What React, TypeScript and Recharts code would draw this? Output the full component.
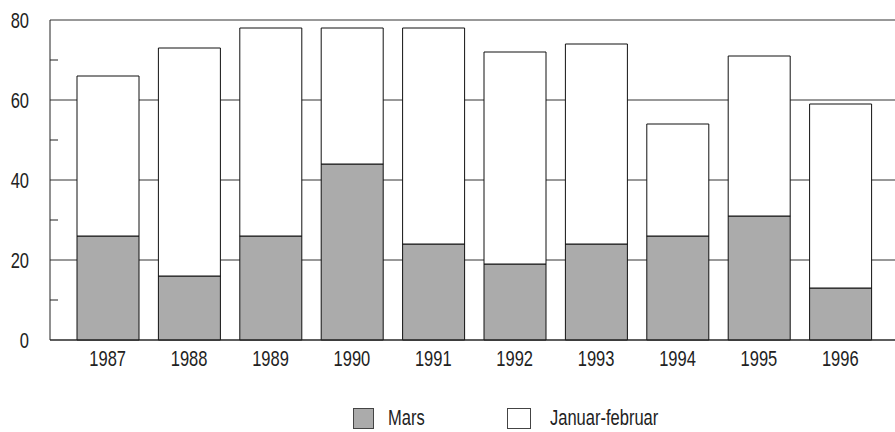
import React from 'react';
import { BarChart, Bar, XAxis, YAxis, CartesianGrid } from 'recharts';

const years = ['1987', '1988', '1989', '1990', '1991', '1992', '1993', '1994', '1995', '1996'];
const mars = [26, 16, 26, 44, 24, 19, 24, 26, 31, 13];
const januarFebruar = [40, 57, 52, 34, 54, 53, 50, 28, 40, 46];
const majorTicks = [0, 20, 40, 60, 80];
const allTicks = [0, 10, 20, 30, 40, 50, 60, 70, 80];

const data = years.map((year, i) => ({
  year,
  mars: mars[i],
  janfeb: januarFebruar[i],
}));

const FONT = "'Liberation Sans', Arial, sans-serif";
const FONT_SIZE = 22;
const SQUEEZE = 0.75;
const MARS_FILL = '#ababab';
const INK = '#222';

// condensed look: squeeze the regular face horizontally
function XTick(props: any) {
  const { x, y, payload } = props;
  return (
    <text
      transform={`translate(${x},${y}) scale(${SQUEEZE},1)`}
      textAnchor="middle"
      dy="0.71em"
      fill={INK}
      fontSize={FONT_SIZE}
      fontFamily={FONT}
    >
      {payload.value}
    </text>
  );
}

const Y_MARGIN = 21;
const MINOR_LEN = 8;

function YTick(props: any) {
  const { x, y, payload } = props;
  if (!majorTicks.includes(payload.value)) {
    const axisX = x + Y_MARGIN;
    return <line x1={axisX} x2={axisX + MINOR_LEN} y1={y} y2={y} stroke={INK} strokeWidth={1} />;
  }
  return (
    <text
      transform={`translate(${x},${y}) scale(${SQUEEZE},1)`}
      textAnchor="end"
      dy="0.355em"
      fill={INK}
      fontSize={FONT_SIZE}
      fontFamily={FONT}
    >
      {payload.value}
    </text>
  );
}

const legendText: React.CSSProperties = {
  display: 'inline-block',
  transform: `scaleX(${SQUEEZE})`,
  transformOrigin: 'left center',
  whiteSpace: 'nowrap',
  lineHeight: '22px',
};

export default function App() {
  return (
    <div style={{ position: 'absolute', left: 0, top: 0, width: 895, height: 432, background: '#fff', fontFamily: FONT }}>
      <BarChart
        width={895}
        height={432}
        data={data}
        margin={{ top: 20, right: 0, bottom: 62, left: 0 }}
      >
        <CartesianGrid vertical={false} stroke="#333" horizontalValues={majorTicks} />
        <XAxis
          dataKey="year"
          height={30}
          padding={{ left: 17, right: 14 }}
          tickLine={false}
          tickSize={0}
          tickMargin={10}
          stroke={INK}
          tick={<XTick />}
        />
        <YAxis
          width={50}
          domain={[0, 80]}
          ticks={allTicks}
          interval={0}
          tickLine={false}
          tickSize={0}
          tickMargin={Y_MARGIN}
          stroke={INK}
          tick={<YTick />}
        />
        <Bar dataKey="mars" stackId="a" barSize={62} fill={MARS_FILL} stroke="#111" strokeWidth={1} isAnimationActive={false} />
        <Bar dataKey="janfeb" stackId="a" barSize={62} fill="#fff" stroke="#111" strokeWidth={1} isAnimationActive={false} />
      </BarChart>

      <div style={{ position: 'absolute', left: 353, top: 408, height: 21, fontSize: FONT_SIZE, color: INK }}>
        <div style={{ position: 'absolute', left: 0, top: 0, width: 21, height: 21, border: '1px solid #444', background: MARS_FILL, boxSizing: 'border-box' }} />
        <span style={{ ...legendText, position: 'absolute', left: 35, top: -1 }}>Mars</span>
        <div style={{ position: 'absolute', left: 154, top: 0, width: 24, height: 21, border: '1px solid #444', background: '#fff', boxSizing: 'border-box' }} />
        <span style={{ ...legendText, position: 'absolute', left: 197, top: -1 }}>Januar-februar</span>
      </div>
    </div>
  );
}
